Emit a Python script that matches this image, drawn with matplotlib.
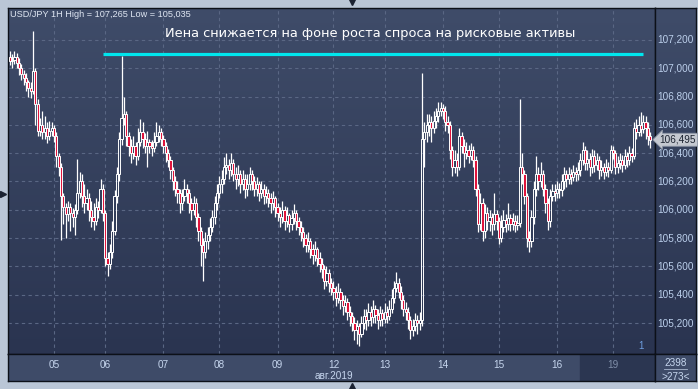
import numpy as np
import matplotlib.pyplot as plt
from matplotlib.colors import LinearSegmentedColormap

# USD/JPY hourly candles, tail of 2 Aug .. 19 Aug 2019 (open = previous close)
first_open = 107.08
close = [
    107.05, 107.06, 107.08, 107.04, 107.00, 106.96, 106.93, 106.90, 106.86, 106.84,
    106.98, 106.75, 106.56, 106.60, 106.55, 106.58, 106.52, 106.56, 106.58,
    # 05
    106.52, 106.38, 106.30, 106.10, 106.02, 105.97, 106.02, 105.98, 105.95, 106.00,
    106.12, 106.20, 106.10, 106.05, 106.08, 106.00, 105.95, 105.92, 106.02, 106.00,
    106.15, 105.98, 105.66, 105.62,
    # 06
    105.70, 105.85, 106.10, 106.25, 106.50, 106.65, 106.68, 106.52, 106.45, 106.40,
    106.45, 106.38, 106.48, 106.55, 106.50, 106.45, 106.48, 106.45, 106.44, 106.48,
    106.52, 106.55, 106.50, 106.45,
    # 07
    106.40, 106.35, 106.28, 106.20, 106.15, 106.12, 106.05, 106.10, 106.15, 106.12,
    106.05, 106.00, 106.05, 105.95, 105.85, 105.75, 105.70, 105.78, 105.82, 105.88,
    105.95, 106.05, 106.12, 106.18,
    # 08
    106.22, 106.30, 106.32, 106.28, 106.33, 106.25, 106.22, 106.25, 106.18, 106.22,
    106.15, 106.18, 106.25, 106.20, 106.15, 106.18, 106.12, 106.15, 106.10, 106.12,
    106.08, 106.05, 106.08, 106.02,
    # 09
    105.98, 105.95, 106.00, 105.92, 105.96, 105.90, 105.94, 105.98, 105.92, 105.88,
    105.84, 105.80, 105.75, 105.78, 105.72, 105.68, 105.72, 105.66, 105.62, 105.58,
    105.50, 105.55, 105.48, 105.45,
    # 12
    105.42, 105.38, 105.42, 105.36, 105.32, 105.35, 105.28, 105.25, 105.20, 105.15,
    105.18, 105.12, 105.20, 105.25, 105.22, 105.28, 105.24, 105.30, 105.26, 105.22,
    105.27, 105.23, 105.28, 105.25,
    # 13
    105.30, 105.38, 105.45, 105.48, 105.42, 105.36, 105.30, 105.28, 105.22, 105.15,
    105.18, 105.22, 105.20, 105.22, 106.50, 106.55, 106.60, 106.62, 106.58, 106.63,
    106.66, 106.70, 106.72, 106.70,
    # 14
    106.62, 106.60, 106.42, 106.30, 106.35, 106.30, 106.52, 106.45, 106.40, 106.42,
    106.38, 106.42, 106.35, 106.15, 105.90, 106.05, 105.85, 105.98, 105.92, 105.95,
    105.90, 105.97, 105.92, 105.80,
    # 15
    105.88, 105.93, 105.90, 105.94, 105.90, 105.92, 105.89, 105.91, 106.30, 106.25,
    106.10, 105.80, 105.78, 105.95, 106.15, 106.25, 106.20, 106.25, 106.15, 106.05,
    105.92, 106.10, 106.13, 106.12,
    # 16
    106.15, 106.14, 106.20, 106.25, 106.22, 106.25, 106.23, 106.27, 106.25, 106.28,
    106.35, 106.42, 106.33, 106.36, 106.30, 106.38, 106.32, 106.35, 106.28, 106.30,
    106.27, 106.30, 106.28, 106.42,
    # 19
    106.40, 106.30, 106.33, 106.35, 106.32, 106.38, 106.35, 106.40, 106.38, 106.58,
    106.55, 106.60, 106.57, 106.62, 106.58, 106.52, 106.495,
]
high = [
    107.12, 107.10, 107.12, 107.11, 107.07, 107.03, 106.99, 106.97, 106.92, 106.90,
    107.265, 107.00, 106.78, 106.65, 106.70, 106.66, 106.62, 106.63, 106.62,
    106.60, 106.55, 106.40, 106.33, 106.12, 106.05, 106.06, 106.05, 106.01, 106.04,
    106.36, 106.27, 106.25, 106.18, 106.15, 106.12, 106.06, 106.05, 106.08, 106.06,
    106.22, 106.18, 106.00, 105.70,
    105.76, 105.92, 106.14, 106.30, 106.55, 107.09, 106.80, 106.70, 106.55, 106.50,
    106.52, 106.48, 106.58, 106.64, 106.62, 106.54, 106.56, 106.50, 106.49, 106.55,
    106.62, 106.60, 106.58, 106.53,
    106.48, 106.43, 106.38, 106.30, 106.24, 106.20, 106.15, 106.15, 106.22, 106.18,
    106.15, 106.08, 106.10, 106.08, 105.98, 105.88, 105.80, 105.84, 105.88, 105.94,
    106.00, 106.10, 106.18, 106.24,
    106.28, 106.37, 106.40, 106.36, 106.40, 106.36, 106.30, 106.32, 106.28, 106.28,
    106.25, 106.25, 106.30, 106.28, 106.24, 106.23, 106.20, 106.20, 106.18, 106.17,
    106.15, 106.12, 106.13, 106.10,
    106.05, 106.02, 106.06, 106.03, 106.02, 105.98, 106.00, 106.04, 106.00, 105.95,
    105.92, 105.88, 105.83, 105.84, 105.80, 105.76, 105.78, 105.74, 105.70, 105.66,
    105.61, 105.60, 105.58, 105.52,
    105.50, 105.46, 105.48, 105.45, 105.40, 105.40, 105.38, 105.32, 105.28, 105.24,
    105.22, 105.20, 105.25, 105.30, 105.30, 105.34, 105.32, 105.36, 105.33, 105.30,
    105.32, 105.30, 105.34, 105.32,
    105.36, 105.44, 105.50, 105.56, 105.52, 105.46, 105.40, 105.35, 105.31, 105.25,
    105.23, 105.27, 105.26, 105.28, 106.97, 106.62, 106.68, 106.68, 106.66, 106.70,
    106.72, 106.76, 106.76, 106.75,
    106.73, 106.66, 106.63, 106.45, 106.42, 106.40, 106.58, 106.55, 106.50, 106.48,
    106.46, 106.47, 106.45, 106.38, 106.18, 106.12, 106.08, 106.04, 106.02, 106.00,
    105.98, 106.12, 106.00, 105.95,
    105.96, 106.00, 105.97, 106.05, 105.97, 105.98, 105.96, 105.96, 106.78, 106.40,
    106.28, 106.12, 105.85, 106.00, 106.20, 106.38, 106.30, 106.34, 106.28, 106.18,
    106.08, 106.15, 106.18, 106.18,
    106.20, 106.19, 106.25, 106.30, 106.28, 106.30, 106.29, 106.32, 106.30, 106.34,
    106.40, 106.48, 106.45, 106.42, 106.40, 106.43, 106.42, 106.40, 106.38, 106.35,
    106.33, 106.36, 106.34, 106.46,
    106.45, 106.42, 106.38, 106.40, 106.39, 106.43, 106.41, 106.45, 106.44, 106.62,
    106.64, 106.66, 106.69, 106.67, 106.66, 106.62, 106.55,
]
low = [
    107.02, 107.00, 107.03, 107.00, 106.95, 106.92, 106.88, 106.84, 106.80, 106.79,
    106.82, 106.60, 106.52, 106.52, 106.50, 106.50, 106.47, 106.49, 106.52,
    106.48, 106.30, 106.24, 105.79, 105.90, 105.80, 105.92, 105.85, 105.88, 105.82,
    105.97, 106.08, 106.02, 105.98, 106.00, 105.92, 105.88, 105.86, 105.89, 105.94,
    105.98, 105.92, 105.60, 105.53,
    105.58, 105.66, 105.82, 106.05, 106.20, 106.46, 106.60, 106.45, 106.38, 106.33,
    106.36, 106.32, 106.35, 106.45, 106.44, 106.40, 106.30, 106.40, 106.38, 106.41,
    106.45, 106.48, 106.45, 106.40,
    106.34, 106.30, 106.22, 106.14, 106.10, 106.05, 105.98, 106.00, 106.06, 106.05,
    105.98, 105.93, 105.96, 105.88, 105.78, 105.60, 105.50, 105.66, 105.72, 105.78,
    105.84, 105.90, 106.00, 106.08,
    106.12, 106.18, 106.25, 106.22, 106.24, 106.20, 106.15, 106.17, 106.12, 106.14,
    106.08, 106.10, 106.14, 106.14, 106.10, 106.10, 106.06, 106.08, 106.04, 106.05,
    106.02, 105.98, 106.00, 105.95,
    105.92, 105.88, 105.91, 105.86, 105.88, 105.84, 105.86, 105.90, 105.86, 105.82,
    105.78, 105.74, 105.70, 105.70, 105.66, 105.62, 105.64, 105.60, 105.56, 105.52,
    105.44, 105.46, 105.42, 105.40,
    105.36, 105.32, 105.34, 105.30, 105.26, 105.28, 105.22, 105.18, 105.14, 105.08,
    105.05, 105.035, 105.10, 105.16, 105.15, 105.18, 105.18, 105.20, 105.20, 105.16,
    105.18, 105.18, 105.20, 105.20,
    105.22, 105.27, 105.34, 105.42, 105.38, 105.30, 105.25, 105.22, 105.16, 105.09,
    105.11, 105.14, 105.12, 105.15, 105.18, 106.30, 106.48, 106.52, 106.48, 106.54,
    106.58, 106.62, 106.66, 106.64,
    106.56, 106.54, 106.36, 106.24, 106.26, 106.24, 106.28, 106.40, 106.30, 106.36,
    106.33, 106.35, 106.30, 106.10, 105.84, 105.86, 105.78, 105.80, 105.86, 105.85,
    105.82, 105.86, 105.86, 105.76,
    105.77, 105.84, 105.84, 105.86, 105.85, 105.86, 105.84, 105.86, 105.88, 106.18,
    106.04, 105.74, 105.70, 105.74, 105.90, 106.10, 106.14, 106.16, 106.10, 105.98,
    105.86, 105.88, 106.06, 106.06,
    106.08, 106.08, 106.10, 106.15, 106.16, 106.18, 106.18, 106.20, 106.20, 106.21,
    106.24, 106.32, 106.28, 106.28, 106.24, 106.26, 106.27, 106.28, 106.22, 106.24,
    106.22, 106.24, 106.23, 106.26,
    106.36, 106.25, 106.26, 106.29, 106.27, 106.29, 106.30, 106.32, 106.34, 106.36,
    106.50, 106.52, 106.52, 106.54, 106.50, 106.46, 106.44,
]

day_labels = ['05', '06', '07', '08', '09', '12', '13', '14', '15', '16', '19']
day_start = [19, 41, 66, 90, 115, 139, 161, 186, 210, 235, 259]
month_label = 'авг.2019'
price_ticks = [105.2, 105.4, 105.6, 105.8, 106.0, 106.2, 106.4, 106.6, 106.8, 107.0, 107.2]

header = 'USD/JPY 1H High = 107,265 Low = 105,035'
title = 'Иена снижается на фоне роста спроса на рисковые активы'
last_price = 106.495
level_price = 107.1
level_from, level_to = 40, 272

opens = [first_open] + close[:-1]
idx = np.arange(len(close))
o = np.array(opens)
c = np.array(close)
hi = np.array(high)
lo = np.array(low)
top = np.maximum(o, c)
bot = np.minimum(o, c)
down = c < o

W, H = 698, 389
fig = plt.figure(figsize=(W / 100, H / 100), dpi=100)
fig.patch.set_facecolor('#bac6d6')
plt.rcParams['font.family'] = ['Liberation Sans', 'DejaVu Sans']


def px_axes(x0, y0, x1, y1):
    return fig.add_axes([x0 / W, 1 - y1 / H, (x1 - x0) / W, (y1 - y0) / H])


ax = px_axes(8, 8, 655, 354)
ax_r = px_axes(655, 8, 696, 354)
ax_b = px_axes(8, 354, 655, 381)
ax_c = px_axes(655, 354, 696, 381)

ymin, ymax = 104.981, 107.426
xmin, xmax = -0.75, 277.05

grad = LinearSegmentedColormap.from_list('bg', ['#2a3450', '#3f4c69'])
for a in (ax, ax_r):
    a.imshow(np.linspace(0, 1, 256).reshape(-1, 1)[::-1], cmap=grad, aspect='auto',
             extent=[0, 1, 0, 1], transform=a.transAxes, zorder=0)

ax.set_xlim(xmin, xmax)
ax.set_ylim(ymin, ymax)
ax_r.set_ylim(ymin, ymax)

# grid
for p in price_ticks:
    ax.axhline(p, color='#5a6784', lw=0.8, ls=(0, (3, 3)), zorder=1)
for d in day_start:
    ax.axvline(d, color='#5a6784', lw=0.8, ls=(0, (3, 3)), zorder=1)

# candles
ax.vlines(idx, top, hi, color='white', lw=0.9, zorder=2)
ax.vlines(idx, lo, bot, color='white', lw=0.9, zorder=2)
ax.bar(idx[down], (top - bot)[down], bottom=bot[down], width=0.95,
       color='#e0143c', edgecolor='white', linewidth=0.7, zorder=3)
ax.bar(idx[~down], (top - bot)[~down], bottom=bot[~down], width=0.95,
       facecolor='none', edgecolor='white', linewidth=0.7, zorder=3)

ax.hlines(level_price, level_from, level_to, color='#00e6ee', lw=2.3, zorder=4)

ax.text(0.5595, 0.927, title, transform=ax.transAxes, ha='center', va='center',
        color='white', fontsize=9.4, family=['DejaVu Sans'], zorder=5)
ax.text(0.003, 0.98, header, transform=ax.transAxes, ha='left', va='center',
        color='#dfe6f2', fontsize=6.6, zorder=5)
ax.text(0.978, 0.022, '1', transform=ax.transAxes, ha='center', va='center',
        color='#6f9fe0', fontsize=7, zorder=5)

# right price scale
ax_r.set_xlim(0, 1)
for p in price_ticks:
    ax_r.text(0.5, p, f'{p:.3f}'.replace('.', ','), ha='center', va='center',
              color='#bcd0ec', fontsize=7.2)
ax_r.text(0.56, last_price, f'{last_price:.3f}'.replace('.', ','), ha='center',
          va='center', color='#1c2330', fontsize=7.2, zorder=6,
          bbox=dict(boxstyle='larrow,pad=0.15', fc='#c4c8d0', ec='#8a93a3', lw=0.6))

# date panel
ax_b.set_facecolor('#3e4b68')
ax_b.set_xlim(xmin, xmax)
ax_b.set_ylim(0, 1)
ax_b.axvspan(244.8, xmax, color='#2b3651', zorder=0)
for d, lab in zip(day_start, day_labels):
    col = '#7f8ea8' if lab == day_labels[-1] else '#c6d6ee'
    ax_b.text(d, 0.6, lab, ha='center', va='center', color=col, fontsize=7.2)
ax_b.text(day_start[5], 0.17, month_label, ha='center', va='center',
          color='#c6d6ee', fontsize=7.2)

ax_c.set_facecolor('#3e4b68')
ax_c.set_xlim(0, 1)
ax_c.set_ylim(0, 1)
ax_c.text(0.5, 0.68, '2398', ha='center', va='center', color='#c6d6ee', fontsize=7.2)
ax_c.plot([0.22, 0.78], [0.44, 0.44], color='#aab8d0', lw=0.6)
ax_c.text(0.5, 0.16, '>273<', ha='center', va='center', color='#c6d6ee', fontsize=7.2)

for a in (ax, ax_r, ax_b, ax_c):
    a.set_xticks([])
    a.set_yticks([])
    for s in a.spines.values():
        s.set_color('#0c1018')
        s.set_linewidth(1.0)

# small scroll markers on the frame
ov = fig.add_axes([0, 0, 1, 1], facecolor='none')
ov.set_xlim(0, W)
ov.set_ylim(H, 0)
ov.axis('off')
ov.plot([3], [194], marker='>', ms=5, color='#1b2232', ls='none')
ov.plot([352], [386], marker='^', ms=5, color='#1b2232', ls='none')
ov.plot([352], [2], marker='v', ms=4, color='#1b2232', ls='none')

fig.savefig('out.png', dpi=100, facecolor=fig.get_facecolor())
